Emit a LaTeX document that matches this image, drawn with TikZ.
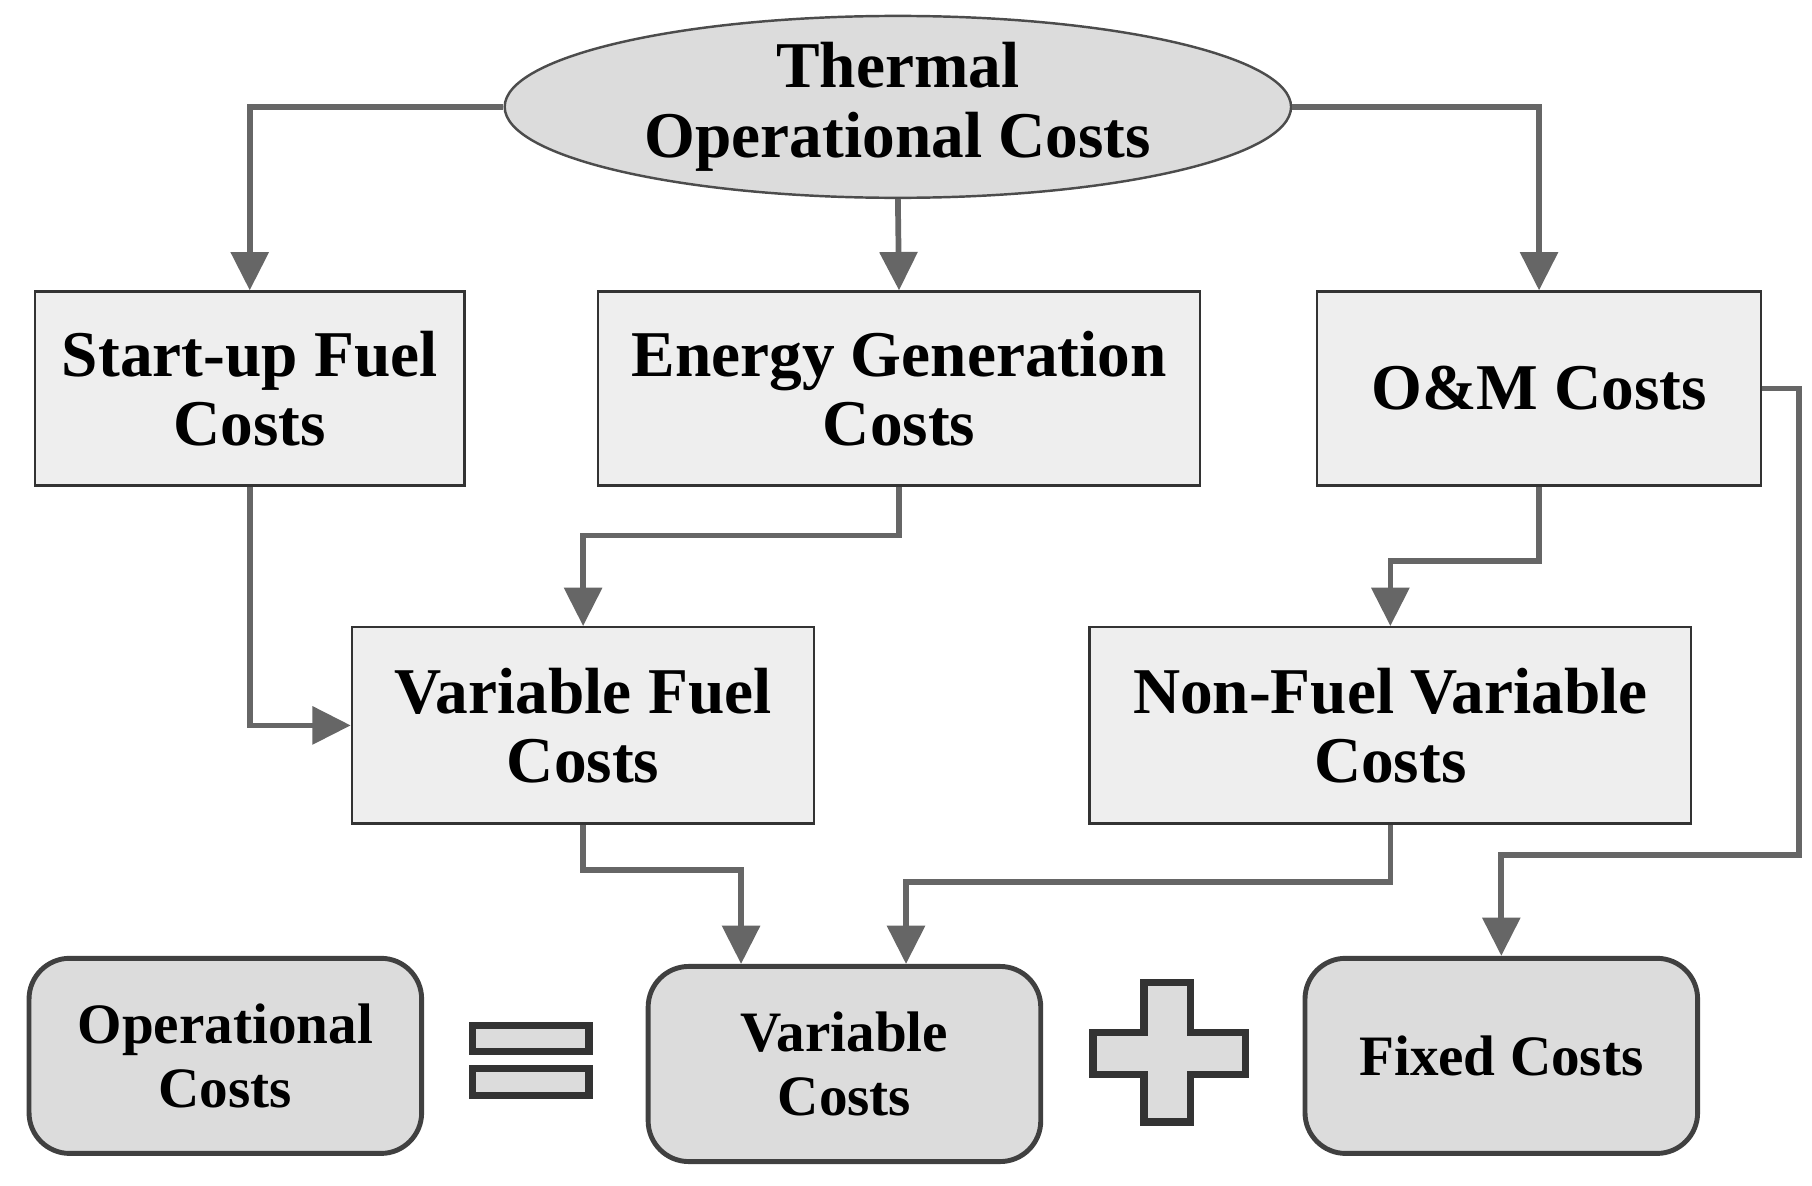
\documentclass[tikz,border=0pt]{standalone}
\usepackage{fontspec}
\setmainfont{Liberation Serif}
\usepackage{tikz}
\usetikzlibrary{arrows.meta,shapes.geometric}

\definecolor{linegray}{HTML}{666666}
\definecolor{boxgray}{HTML}{EEEEEE}
\definecolor{sumgray}{HTML}{DCDCDC}

\begin{document}
\begin{tikzpicture}
  [font=\bfseries\fontsize{16}{17}\selectfont,
   costbox/.style={rectangle,draw=black!80,line width=0.6pt,fill=boxgray,align=center,inner sep=0pt},
   sumbox/.style={rectangle,rounded corners=0.35cm,draw=black!75,line width=1.2pt,fill=sumgray,align=center,inner sep=0pt,
     minimum width=3.38cm,minimum height=1.68cm,font=\bfseries\fontsize{14}{15.5}\selectfont},
   flow/.style={draw=linegray,line width=1.4pt,-{Triangle[length=3.3mm,width=3.2mm]}},
   sign/.style={draw=black!80,line width=1.8pt,fill=sumgray}]
  \useasboundingbox (0,0) rectangle (15.6,-10.21);
  \node[ellipse,draw=black!70,line width=0.6pt,fill=sumgray,minimum width=6.77cm,minimum height=1.56cm,align=center,inner sep=0pt]
    (thermal) at (7.73,-0.92) {Thermal\\Operational Costs};
  \node[costbox,minimum width=3.70cm,minimum height=1.67cm] (startup) at (2.15,-3.345) {Start-up Fuel\\Costs};
  \node[costbox,minimum width=5.18cm,minimum height=1.67cm] (energy) at (7.74,-3.345) {Energy Generation\\Costs};
  \node[costbox,minimum width=3.82cm,minimum height=1.67cm] (om) at (13.25,-3.345) {O\&M Costs};
  \node[costbox,minimum width=3.98cm,minimum height=1.69cm] (varfuel) at (5.02,-6.245) {Variable Fuel\\Costs};
  \node[costbox,minimum width=5.18cm,minimum height=1.69cm] (nonfuel) at (11.97,-6.245) {Non-Fuel Variable\\Costs};
  \node[sumbox] (opcost) at (1.94,-9.09) {Operational\\Costs};
  \node[sumbox] (varcost) at (7.27,-9.16) {Variable\\Costs};
  \node[sumbox] (fixed) at (12.925,-9.09) {Fixed Costs};

  % equals and plus signs
  \draw[sign] (4.07,-8.83) rectangle (5.07,-9.05);
  \draw[sign] (4.07,-9.20) rectangle (5.07,-9.43);
  \draw[sign] (9.85,-8.46) -- (10.25,-8.46) -- (10.25,-8.89) -- (10.72,-8.89) -- (10.72,-9.25)
    -- (10.25,-9.25) -- (10.25,-9.66) -- (9.85,-9.66) -- (9.85,-9.25) -- (9.41,-9.25)
    -- (9.41,-8.89) -- (9.85,-8.89) -- cycle;

  % connectors
  \draw[flow] (thermal.west) -| (startup.north);
  \draw[flow] (thermal.south) -- (energy.north);
  \draw[flow] (thermal.east) -| (om.north);
  \draw[flow] (startup.south) |- (varfuel.west);
  \draw[flow] (energy.south) -- ++(0,-0.42) -| (varfuel.north);
  \draw[flow] (om.south) -- ++(0,-0.64) -| (nonfuel.north);
  \draw[flow] (om.east) -- ++(0.32,0) |- ([yshift=0.87cm]fixed.north) -- (fixed.north);
  \draw[flow] (varfuel.south) -- ++(0,-0.39) -| ([xshift=-0.89cm]varcost.north);
  \draw[flow] (nonfuel.south) -- ++(0,-0.49) -| ([xshift=0.53cm]varcost.north);
\end{tikzpicture}
\end{document}
